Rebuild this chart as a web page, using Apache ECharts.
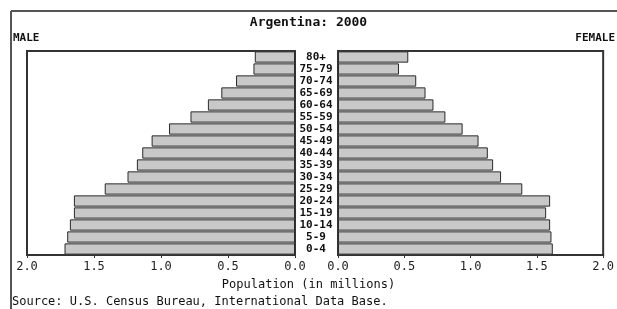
<!DOCTYPE html>
<html>
<head>
<meta charset="utf-8">
<script src="https://cdn.jsdelivr.net/npm/echarts@6/dist/echarts.min.js"></script>
<style>
  html, body { margin: 0; padding: 0; background: #fff; }
  #main { width: 617px; height: 309px; }
</style>
</head>
<body>
<div id="main"></div>
<script>
// age groups, bottom to top
var ageGroups = ["0-4", "5-9", "10-14", "15-19", "20-24", "25-29", "30-34", "35-39",
  "40-44", "45-49", "50-54", "55-59", "60-64", "65-69", "70-74", "75-79", "80+"];
// population in millions
var male = [1.72, 1.70, 1.68, 1.65, 1.65, 1.42, 1.25, 1.18,
  1.14, 1.07, 0.94, 0.78, 0.65, 0.55, 0.44, 0.31, 0.30];
var female = [1.62, 1.61, 1.60, 1.57, 1.60, 1.39, 1.23, 1.17,
  1.13, 1.06, 0.94, 0.81, 0.72, 0.66, 0.59, 0.46, 0.53];

var FONT = "DejaVu Sans Mono";
var myChart = echarts.init(document.getElementById("main"));

var xAxisBase = {
  type: "value",
  min: 0,
  max: 2,
  interval: 0.5,
  splitLine: { show: false },
  axisLine: { show: true, lineStyle: { color: "#333", width: 2 } },
  axisTick: { show: true, length: 3, lineStyle: { color: "#333" } },
  axisLabel: {
    margin: 6,
    fontFamily: FONT,
    fontSize: 12,
    color: "#222",
    formatter: function (v) { return v.toFixed(1); }
  }
};

var barStyle = {
  color: "#c8c8c8",
  borderColor: "#2a2a2a",
  borderWidth: 1
};

var option = {
  animation: false,
  backgroundColor: "#fff",
  title: {
    text: "Argentina: 2000",
    left: "center",
    top: 11,
    textStyle: { fontFamily: FONT, fontSize: 13, fontWeight: "bold", color: "#111" }
  },
  grid: [
    { left: 27, top: 51, width: 268, height: 204, show: true, borderColor: "#333", borderWidth: 2, backgroundColor: "#fff" },
    { left: 338, top: 51, width: 268, height: 204, show: true, borderColor: "#333", borderWidth: 2, backgroundColor: "#fff" }
  ],
  xAxis: [
    Object.assign({}, xAxisBase, { gridIndex: 0, inverse: true }),
    Object.assign({}, xAxisBase, { gridIndex: 1 })
  ],
  yAxis: [
    {
      type: "category",
      gridIndex: 0,
      data: ageGroups,
      axisLine: { show: false },
      axisTick: { show: false },
      axisLabel: { show: false }
    },
    {
      type: "category",
      gridIndex: 1,
      data: ageGroups,
      axisLine: { show: false },
      axisTick: { show: false },
      axisLabel: {
        show: true,
        interval: 0,
        align: "center",
        margin: 22,
        fontFamily: FONT,
        fontSize: 11,
        fontWeight: "bold",
        color: "#111"
      }
    }
  ],
  series: [
    {
      name: "Male",
      type: "bar",
      xAxisIndex: 0,
      yAxisIndex: 0,
      barCategoryGap: "6%",
      itemStyle: barStyle,
      data: male
    },
    {
      name: "Female",
      type: "bar",
      xAxisIndex: 1,
      yAxisIndex: 1,
      barCategoryGap: "6%",
      itemStyle: barStyle,
      data: female
    }
  ],
  graphic: [
    // outer frame
    { type: "line", shape: { x1: 11, y1: 11, x2: 617, y2: 11 }, style: { stroke: "#555", lineWidth: 2 } },
    { type: "line", shape: { x1: 11, y1: 11, x2: 11, y2: 309 }, style: { stroke: "#555", lineWidth: 2 } },
    {
      type: "text", left: 13, top: 33,
      style: { text: "MALE", font: "bold 11px " + FONT, fill: "#111" }
    },
    {
      type: "text", right: 2, top: 33,
      style: { text: "FEMALE", font: "bold 11px " + FONT, fill: "#111" }
    },
    {
      type: "text", left: "center", top: 279,
      style: { text: "Population (in millions)", font: "12px " + FONT, fill: "#111" }
    },
    {
      type: "text", left: 12, top: 296,
      style: { text: "Source: U.S. Census Bureau, International Data Base.", font: "12px " + FONT, fill: "#111" }
    }
  ]
};

myChart.setOption(option);
</script>
</body>
</html>
